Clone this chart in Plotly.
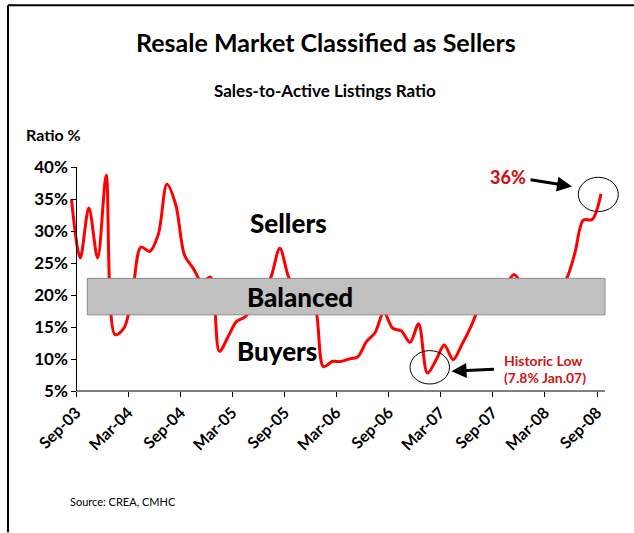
import pandas as pd
import plotly.graph_objects as go

# ---- data ----
months = pd.date_range("2003-08-01", "2008-09-01", freq="MS") + pd.Timedelta(days=14)
ratio = [35.0, 25.8, 33.6, 25.8, 38.7, 13.8, 14.8, 19.9, 27.5, 26.8,
         29.5, 37.3, 34.1, 26.2, 24.2, 22.0, 22.8, 11.2, 13.5, 15.8,
         16.6, 18.3, 20.5, 22.8, 27.3, 22.8, 20.5, 19.5, 18.5, 8.8,
         9.6, 9.6, 10.0, 10.3, 12.7, 14.1, 17.3, 14.8, 14.4, 12.6,
         15.5, 7.8, 9.9, 12.2, 9.9, 12.2, 14.9, 18.0, 20.0, 21.0,
         21.5, 23.2, 21.5, 20.5, 20.0, 20.5, 21.2, 22.4, 26.5, 31.7,
         31.8, 35.8]
y_ticks = [5, 10, 15, 20, 25, 30, 35, 40]
y_labels = [f"{v}%" for v in y_ticks]
balanced_band = (16.9, 22.6)

# ---- layout geometry (pixels) ----
W, H = 634, 533
L, R, T, B = 70, 605, 167, 391.5


def px(x):
    return (x - L) / (R - L)


def py(y):
    return (B - y) / (B - T)


FONT = "Lato"
RED = "#d01515"
HEAVY = 900

fig = go.Figure()
fig.add_trace(go.Scatter(
    x=months, y=ratio, mode="lines",
    line=dict(color="#ff0000", width=3, shape="spline", smoothing=0.9),
    hoverinfo="skip", showlegend=False))

fig.update_layout(
    width=W, height=H, autosize=False,
    margin=dict(l=L, r=W - R, t=T, b=H - B, pad=0),
    paper_bgcolor="white", plot_bgcolor="white",
    showlegend=False,
    xaxis=dict(
        type="date", range=["2003-08-10", "2008-09-29"],
        tick0="2003-09-01", dtick="M6", tickformat="%b-%y",
        tickangle=-45, showgrid=False, zeroline=False, showline=False,
        ticks="outside", ticklen=5, tickcolor="black", tickwidth=1,
        tickfont=dict(family=FONT, size=16, color="black", weight="bold"),
    ),
    yaxis=dict(
        range=[5, 40], tickmode="array", tickvals=y_ticks, ticktext=y_labels,
        anchor="free", position=px(76.3),
        showgrid=False, zeroline=False, showline=True,
        linecolor="black", linewidth=1,
        ticks="outside", ticklen=5, tickcolor="black", tickwidth=1,
        tickfont=dict(family=FONT, size=17, color="black", weight="bold"),
    ),
)

shapes = [
    # x axis line starting at the y axis
    dict(type="line", xref="paper", yref="paper", x0=px(76.3), x1=1, y0=0, y1=0,
         line=dict(color="black", width=1)),
    # balanced band
    dict(type="rect", xref="paper", yref="y", x0=px(87.3), x1=1,
         y0=balanced_band[0], y1=balanced_band[1],
         fillcolor="#c0c0c0", line=dict(color="#8a8a8a", width=1), layer="above"),
    # circles
    dict(type="circle", xref="paper", yref="paper",
         x0=px(578.3), x1=px(618.3), y0=py(211.7), y1=py(177.3),
         line=dict(color="black", width=1)),
    dict(type="circle", xref="paper", yref="paper",
         x0=px(410), x1=px(449.5), y0=py(384.5), y1=py(351),
         line=dict(color="black", width=1)),
    # frame
    dict(type="line", xref="paper", yref="paper", x0=px(8), x1=px(8), y0=py(5), y1=py(533),
         line=dict(color="black", width=2)),
    dict(type="line", xref="paper", yref="paper", x0=px(8), x1=px(634), y0=py(5), y1=py(5),
         line=dict(color="black", width=2)),
]
fig.update_layout(shapes=shapes)


def text(x, y, s, size, color="black", weight="bold", xanchor="center"):
    fig.add_annotation(x=px(x), y=py(y), xref="paper", yref="paper", text=s,
                       showarrow=False, xanchor=xanchor, yanchor="middle",
                       font=dict(family=FONT, size=size, color=color, weight=weight))


text(326, 42, "Resale Market Classified as Sellers", 25)
text(325, 90, "Sales-to-Active Listings Ratio", 17)
text(24, 134, "Ratio %", 16, xanchor="left")
text(288, 223, "Sellers", 26, weight=HEAVY)
text(300, 297, "Balanced", 26, weight=HEAVY)
text(277, 351, "Buyers", 26, weight=HEAVY)
text(508, 177, "36%", 18, color=RED, weight=HEAVY)
text(502, 361, "Historic Low", 14, color=RED, xanchor="left")
text(502, 378, "(7.8% Jan.07)", 14, color=RED, xanchor="left")
text(68, 502, "Source: CREA, CMHC", 11, weight="normal", xanchor="left")

# arrows
fig.add_annotation(x=px(572), y=py(186.5), xref="paper", yref="paper", text="",
                   showarrow=True, ax=-43, ay=-7, arrowhead=2, arrowsize=1,
                   arrowwidth=3, arrowcolor="black")
fig.add_annotation(x=px(451.5), y=py(371.7), xref="paper", yref="paper", text="",
                   showarrow=True, ax=44, ay=-2, arrowhead=2, arrowsize=1,
                   arrowwidth=3, arrowcolor="black")

fig.write_html("out.html")
